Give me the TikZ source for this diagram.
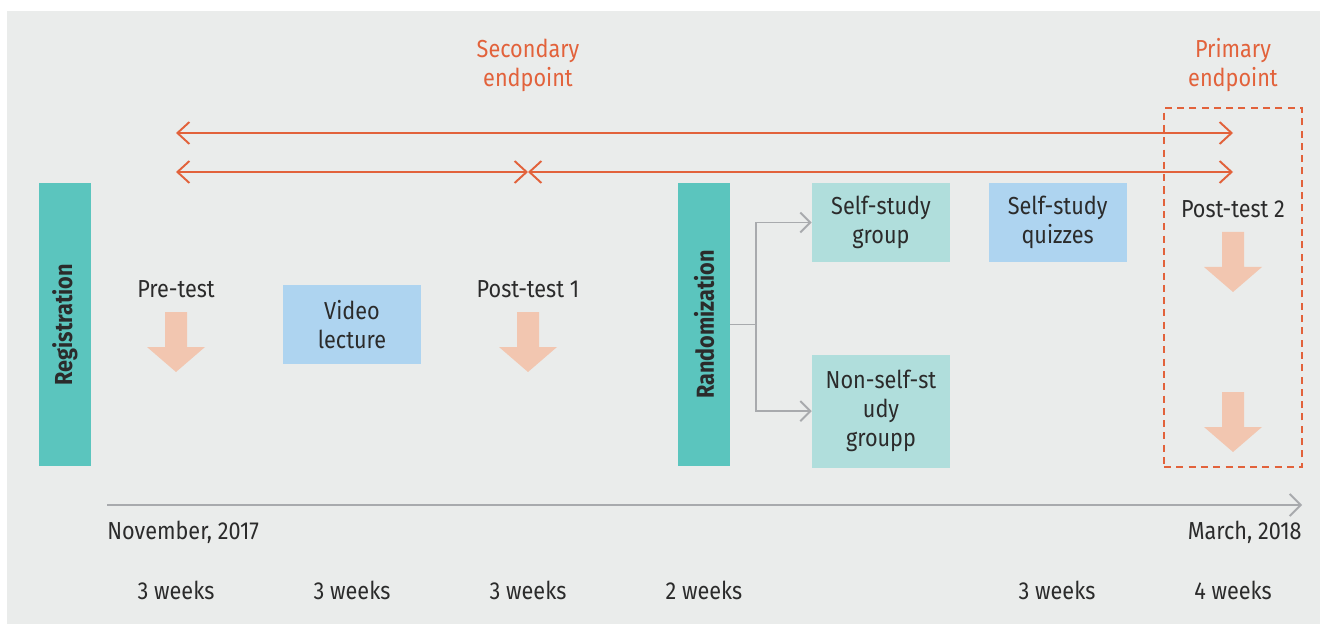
\documentclass[tikz,border=0pt]{standalone}
\usepackage{fontspec}
\setmainfont{Fira Sans}[FakeStretch=0.88]
\usepackage{xcolor}
\definecolor{panelGray}{HTML}{EAECEB}
\definecolor{barTeal}{HTML}{5BC5BE}
\definecolor{groupTeal}{HTML}{B0DEDC}
\definecolor{stepBlue}{HTML}{AED4F0}
\definecolor{endOrange}{HTML}{E2623B}
\definecolor{testPeach}{HTML}{F2C6B0}
\definecolor{lineGray}{HTML}{A8AAAD}
\definecolor{textDark}{HTML}{2B2B2B}
\usetikzlibrary{positioning,arrows.meta}
\tikzset{%
  phaseBar/.style={%
    rectangle,
    fill=barTeal,
    inner sep=0pt,
    minimum width=1.04cm,
    minimum height=5.66cm,
    text=textDark,
    font=\bfseries\fontsize{14}{16}\selectfont
  },
  stepBox/.style={%
    rectangle,
    fill=stepBlue,
    inner sep=0pt,
    minimum width=2.76cm,
    minimum height=1.58cm,
    align=center,
    text=textDark,
    font=\fontsize{14}{16.5}\selectfont
  },
  groupBox/.style={%
    stepBox,
    fill=groupTeal
  },
  plainLabel/.style={%
    text=textDark,
    inner sep=0pt,
    font=\fontsize{14}{16.5}\selectfont
  },
  endLabel/.style={%
    text=endOrange,
    align=center,
    inner sep=0pt,
    font=\fontsize{14}{16.5}\selectfont
  },
  endArrow/.style={%
    {Straight Barb[length=2.4mm,width=4.4mm]}-{Straight Barb[length=2.4mm,width=4.4mm]},
    line width=1.1pt,
    color=endOrange
  },
  branchArrow/.style={%
    -{Straight Barb[length=2mm,width=4mm]},
    line width=1.1pt,
    color=lineGray
  },
  timeLine/.style={%
    -{Straight Barb[length=2.2mm,width=4.4mm]},
    line width=1.1pt,
    color=lineGray
  },
  primaryFrame/.style={%
    rectangle,
    draw=endOrange,
    line width=1.1pt,
    dash pattern=on 4pt off 3pt,
    minimum width=2.76cm,
    minimum height=7.18cm
  },
  testArrow/.style={%
    fill=testPeach
  }
}

\begin{document}
\begin{tikzpicture}[x=0.02cm,y=-0.02cm]
  \useasboundingbox (0,0) rectangle (1320,625);
  \fill[white] (0,0) rectangle (1320,625);
  \fill[panelGray] (7,11) rectangle (1320,624);

  % phases
  \node[phaseBar] (reg) at (65,324.5) {\rotatebox{90}{Registration}};
  \node[phaseBar] (rand) at (704,324.5) {\rotatebox{90}{Randomization}};

  \node[stepBox] (video) at (352,324.5) {Video\\lecture};
  \node[groupBox] (selfGroup) at (881,222.5) {Self-study\\group};
  \node[groupBox, minimum height=2.26cm, below=1.84cm of selfGroup] (nonSelf) {Non-self-st\\udy\\groupp};
  \node[stepBox, right=0.76cm of selfGroup] (quizzes) {Self-study\\quizzes};

  % tests
  \node[plainLabel] (preTest) at (176,289) {Pre-test};
  \node[plainLabel] (postOne) at (528,289) {Post-test 1};
  \node[plainLabel] (postTwo) at (1233,209) {Post-test 2};
  \coordinate (preTip) at (176,312);
  \coordinate (postOneTip) at (528,312);
  \coordinate (postTwoTip) at (1233,232);
  \coordinate (postTwoLow) at (1233,392);
  \fill[testArrow] (preTip) ++(-11,0) -- ++(22,0) -- ++(0,35) -- ++(18,0) -- ++(-29,25) -- ++(-29,-25) -- ++(18,0) -- cycle;
  \fill[testArrow] (postOneTip) ++(-11,0) -- ++(22,0) -- ++(0,35) -- ++(18,0) -- ++(-29,25) -- ++(-29,-25) -- ++(18,0) -- cycle;
  \fill[testArrow] (postTwoTip) ++(-11,0) -- ++(22,0) -- ++(0,35) -- ++(18,0) -- ++(-29,25) -- ++(-29,-25) -- ++(18,0) -- cycle;
  \fill[testArrow] (postTwoLow) ++(-11,0) -- ++(22,0) -- ++(0,35) -- ++(18,0) -- ++(-29,25) -- ++(-29,-25) -- ++(18,0) -- cycle;

  % endpoints
  \node[endLabel] (secEnd) at (528,65) {Secondary\\endpoint};
  \node[endLabel] (primEnd) at (1233,65) {Primary\\endpoint};
  \node[primaryFrame] (primFrame) at (1233,287.5) {};
  \coordinate (startTop) at (176,133);
  \coordinate (endTop) at (1233,133);
  \coordinate (startLow) at (176,172);
  \coordinate (midLow) at (528,172);
  \coordinate (endLow) at (1233,172);
  \draw[endArrow] (startTop) -- (endTop);
  \draw[endArrow] (startLow) -- (midLow);
  \draw[endArrow] (midLow) -- (endLow);

  % randomization branches
  \coordinate (fork) at (756,324.5);
  \draw[lineGray, line width=1.1pt] (rand) -- (fork);
  \draw[branchArrow] (fork) |- (selfGroup.west);
  \draw[branchArrow] (fork) |- (nonSelf.west);

  % timeline
  \coordinate (tStart) at (107,505);
  \coordinate (tEnd) at (1302,505);
  \draw[timeLine] (tStart) -- (tEnd);
  \node[plainLabel, anchor=west] (novDate) at (107,532) {November, 2017};
  \node[plainLabel, anchor=east] (marDate) at (1302,532) {March, 2018};

  \node[plainLabel] (wkOne) at (176,590) {3 weeks};
  \node[plainLabel] (wkTwo) at (352,590) {3 weeks};
  \node[plainLabel] (wkThree) at (528,590) {3 weeks};
  \node[plainLabel] (wkFour) at (704,590) {2 weeks};
  \node[plainLabel] (wkFive) at (1057,590) {3 weeks};
  \node[plainLabel] (wkSix) at (1233,590) {4 weeks};
\end{tikzpicture}
\end{document}
